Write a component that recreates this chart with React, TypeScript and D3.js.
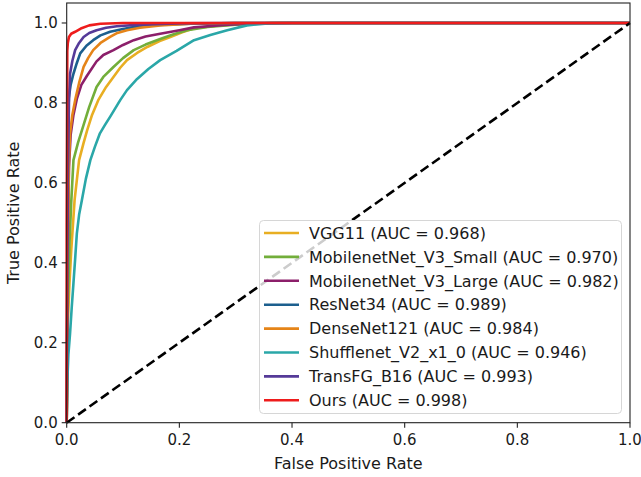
import React from "react";
import * as d3 from "d3";

// ROC curves: false positive rate / true positive rate pairs per model
const vggFpr = [0, 0.001, 0.002, 0.005, 0.008, 0.014, 0.022, 0.03, 0.036, 0.045, 0.056, 0.07, 0.083, 0.095, 0.107, 0.125, 0.143, 0.165, 0.184, 0.205, 0.226, 0.27, 0.32, 0.38, 1];
const vggTpr = [0, 0.12, 0.25, 0.35, 0.43, 0.557, 0.657, 0.7, 0.73, 0.77, 0.807, 0.84, 0.865, 0.888, 0.907, 0.925, 0.94, 0.955, 0.965, 0.977, 0.987, 0.994, 0.998, 1, 1];

const mbsFpr = [0, 0.001, 0.002, 0.005, 0.008, 0.012, 0.02, 0.03, 0.04, 0.053, 0.065, 0.083, 0.1, 0.119, 0.14, 0.166, 0.19, 0.214, 0.25, 0.3, 0.36, 1];
const mbsTpr = [0, 0.15, 0.3, 0.45, 0.55, 0.657, 0.7, 0.745, 0.79, 0.84, 0.865, 0.89, 0.912, 0.932, 0.946, 0.96, 0.972, 0.982, 0.99, 0.996, 1, 1];

const mblFpr = [0, 0.001, 0.002, 0.004, 0.007, 0.012, 0.018, 0.026, 0.036, 0.053, 0.065, 0.083, 0.1, 0.119, 0.14, 0.166, 0.2, 0.226, 0.28, 0.33, 0.4, 1];
const mblTpr = [0, 0.25, 0.45, 0.64, 0.72, 0.77, 0.81, 0.845, 0.868, 0.904, 0.92, 0.932, 0.945, 0.957, 0.966, 0.973, 0.982, 0.989, 0.995, 0.999, 1, 1];

const resFpr = [0, 0.001, 0.003, 0.007, 0.012, 0.018, 0.024, 0.035, 0.047, 0.06, 0.077, 0.1, 0.119, 0.16, 0.22, 0.3, 1];
const resTpr = [0, 0.4, 0.807, 0.845, 0.873, 0.9, 0.924, 0.943, 0.957, 0.969, 0.978, 0.985, 0.99, 0.995, 0.998, 1, 1];

const denFpr = [0, 0.001, 0.002, 0.004, 0.006, 0.01, 0.015, 0.022, 0.03, 0.038, 0.047, 0.06, 0.077, 0.09, 0.107, 0.13, 0.166, 0.22, 0.3, 1];
const denTpr = [0, 0.25, 0.45, 0.65, 0.724, 0.77, 0.807, 0.85, 0.89, 0.912, 0.932, 0.95, 0.965, 0.975, 0.982, 0.988, 0.994, 0.998, 1, 1];

const shfFpr = [0, 0.001, 0.003, 0.006, 0.009, 0.012, 0.015, 0.018, 0.022, 0.027, 0.034, 0.042, 0.05, 0.059, 0.068, 0.077, 0.095, 0.107, 0.125, 0.145, 0.166, 0.195, 0.226, 0.255, 0.285, 0.32, 0.357, 0.4, 1];
const shfTpr = [0, 0.1, 0.17, 0.224, 0.29, 0.349, 0.41, 0.473, 0.52, 0.557, 0.61, 0.657, 0.69, 0.724, 0.745, 0.765, 0.807, 0.832, 0.86, 0.885, 0.907, 0.93, 0.957, 0.97, 0.982, 0.994, 0.999, 1, 1];

const tfgFpr = [0, 0.001, 0.002, 0.004, 0.006, 0.01, 0.015, 0.022, 0.03, 0.04, 0.053, 0.07, 0.089, 0.13, 0.2, 0.3, 1];
const tfgTpr = [0, 0.3, 0.6, 0.8, 0.873, 0.905, 0.932, 0.95, 0.965, 0.975, 0.982, 0.988, 0.992, 0.996, 0.999, 1, 1];

const oursFpr = [0, 0, 0.001, 0.002, 0.004, 0.008, 0.015, 0.025, 0.04, 0.06, 0.1, 1];
const oursTpr = [0, 0.5, 0.93, 0.95, 0.965, 0.973, 0.978, 0.986, 0.994, 0.998, 1, 1];

const modelNames = [
  "VGG11",
  "MobilenetNet_V3_Small",
  "MobilenetNet_V3_Large",
  "ResNet34",
  "DenseNet121",
  "Shufflenet_V2_x1_0",
  "TransFG_B16",
  "Ours",
];
const aucValues = [0.968, 0.97, 0.982, 0.989, 0.984, 0.946, 0.993, 0.998];
const modelColors = ["#E8AE22", "#72AE3A", "#8C1F6A", "#1C5F8E", "#E58418", "#2AA7A8", "#553A98", "#EE1C1C"];
const fprSeries = [vggFpr, mbsFpr, mblFpr, resFpr, denFpr, shfFpr, tfgFpr, oursFpr];
const tprSeries = [vggTpr, mbsTpr, mblTpr, resTpr, denTpr, shfTpr, tfgTpr, oursTpr];

const axisTicks = [0, 0.2, 0.4, 0.6, 0.8, 1.0];

const W = 641;
const H = 477;
const left = 66.7;
const right = 630;
const top = 3;
const bottom = 422.7;
const FONT = "'DejaVu Sans', sans-serif";
const TICK_FS = 15;
const LABEL_FS = 16;

export default function App() {
  const x = d3.scaleLinear().domain([0, 1]).range([left, right]);
  const y = d3.scaleLinear().domain([0, 1.05]).range([bottom, top]);
  const line = d3
    .line<[number, number]>()
    .x((d) => x(d[0]))
    .y((d) => y(d[1]));

  const curves = fprSeries.map((f, i) => f.map((v, j) => [v, tprSeries[i][j]] as [number, number]));

  const legX = 259.5;
  const legY = 220.5;
  const legW = 362;
  const legH = 193;
  const rowStart = 233;
  const rowStep = 23.9;

  return (
    <svg
      width={W}
      height={H}
      style={{ position: "absolute", left: 0, top: 0, background: "#fff" }}
      fontFamily={FONT}
    >
      <rect x={0} y={0} width={W} height={H} fill="#fff" />
      <g>
        {curves.map((c, i) => (
          <path
            key={modelNames[i]}
            d={line(c) || ""}
            fill="none"
            stroke={modelColors[i]}
            strokeWidth={2.6}
            strokeLinejoin="round"
          />
        ))}
        <path
          d={line([[0, 0], [1, 1]]) || ""}
          fill="none"
          stroke="#000"
          strokeWidth={2.6}
          strokeDasharray="9.5,4.5"
        />
      </g>
      {/* axes frame */}
      <rect x={left} y={top} width={right - left} height={bottom - top} fill="none" stroke="#222" strokeWidth={1.1} />
      {axisTicks.map((t) => (
        <g key={"x" + t}>
          <line x1={x(t)} x2={x(t)} y1={bottom} y2={bottom + 5} stroke="#222" strokeWidth={1.1} />
          <text x={x(t)} y={bottom + 22} textAnchor="middle" fontSize={TICK_FS} fill="#1a1a1a">
            {t.toFixed(1)}
          </text>
        </g>
      ))}
      {axisTicks.map((t) => (
        <g key={"y" + t}>
          <line x1={left - 5} x2={left} y1={y(t)} y2={y(t)} stroke="#222" strokeWidth={1.1} />
          <text x={left - 9} y={y(t)} dy="0.36em" textAnchor="end" fontSize={TICK_FS} fill="#1a1a1a">
            {t.toFixed(1)}
          </text>
        </g>
      ))}
      <text x={(left + right) / 2} y={469} textAnchor="middle" fontSize={LABEL_FS} fill="#1a1a1a">
        False Positive Rate
      </text>
      <text
        transform={`translate(19, ${(top + bottom) / 2}) rotate(-90)`}
        textAnchor="middle"
        fontSize={LABEL_FS}
        fill="#1a1a1a"
      >
        True Positive Rate
      </text>
      {/* legend */}
      <rect x={legX} y={legY} width={legW} height={legH} rx={4} fill="#fff" fillOpacity={0.8} stroke="#d6d6d6" strokeWidth={1} />
      {modelNames.map((name, i) => {
        const ry = rowStart + i * rowStep;
        return (
          <g key={"leg" + name}>
            <line x1={264} x2={299} y1={ry} y2={ry} stroke={modelColors[i]} strokeWidth={2.6} />
            <text x={309} y={ry} dy="0.36em" fontSize={LABEL_FS} fill="#1a1a1a">
              {`${name} (AUC = ${aucValues[i].toFixed(3)})`}
            </text>
          </g>
        );
      })}
    </svg>
  );
}
